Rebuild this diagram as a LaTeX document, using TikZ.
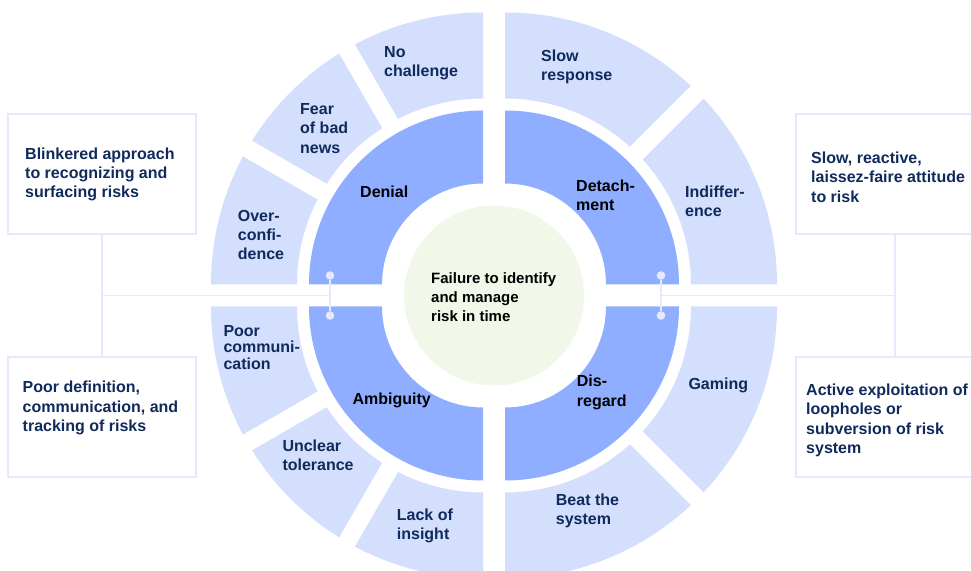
\documentclass[tikz,border=0pt]{standalone}
\usepackage{fontspec}
\setmainfont{Liberation Sans}
\usetikzlibrary{calc}
\definecolor{ringdark}{RGB}{143,174,255}
\definecolor{ringlight}{RGB}{211,223,253}
\definecolor{centergreen}{RGB}{241,247,233}
\definecolor{navy}{RGB}{16,42,92}
\definecolor{linec}{RGB}{226,234,251}
\newcommand\ringseg[6]{%
  \fill[#6] ($(#1)+(#2:#4)$) arc[start angle=#2,end angle=#3,radius=#4]
    -- ($(#1)+(#3:#5)$) arc[start angle=#3,end angle=#2,radius=#5] -- cycle;}
\tikzset{
  otext/.style={anchor=west, inner sep=0, align=left, text=navy,
    font=\bfseries\fontsize{16}{19.3}\selectfont},
  itext/.style={anchor=west, inner sep=0, align=left, text=black,
    font=\bfseries\fontsize{16}{19.3}\selectfont},
  ctext/.style={anchor=west, inner sep=0, align=left, text=black,
    font=\bfseries\fontsize{15}{19}\selectfont},
  infobox/.style={rectangle, draw=linec, line width=1.2, fill=white, inner sep=0,
    minimum height=120},
  conn/.style={draw=linec, line width=1.5},
  dot/.style={circle, fill=linec, inner sep=0, minimum size=8.6},
  gapline/.style={white, line width=18},
}
\begin{document}
\begin{tikzpicture}[x=1pt,y=1pt]
\useasboundingbox (0,0) rectangle (971,570);
\clip (0,0) rectangle (971,570);
\fill[white] (0,0) rectangle (971,570);

% quadrant centres
\coordinate (C) at (494,274.5);
\coordinate (TL) at (483,285.5);
\coordinate (TR) at (505,285.5);
\coordinate (BL) at (483,263.5);
\coordinate (BR) at (505,263.5);

% outer ring
\ringseg{TL}{90}{180}{186}{272}{ringlight}
\ringseg{TR}{0}{90}{186}{272}{ringlight}
\ringseg{BL}{180}{270}{186}{272}{ringlight}
\ringseg{BR}{270}{360}{186}{272}{ringlight}
% gaps between outer segments
\draw[gapline] ($(TL)+(120:178)$) -- ($(TL)+(120:282)$);
\draw[gapline] ($(TL)+(150:178)$) -- ($(TL)+(150:282)$);
\draw[gapline] ($(TR)+(45:178)$) -- ($(TR)+(45:282)$);
\draw[gapline] ($(BL)+(210:178)$) -- ($(BL)+(210:282)$);
\draw[gapline] ($(BL)+(240:178)$) -- ($(BL)+(240:282)$);
\draw[gapline] ($(BR)+(315:178)$) -- ($(BR)+(315:282)$);

% inner ring
\ringseg{TL}{90}{180}{101}{174}{ringdark}
\ringseg{TR}{0}{90}{101}{174}{ringdark}
\ringseg{BL}{180}{270}{101}{174}{ringdark}
\ringseg{BR}{270}{360}{101}{174}{ringdark}

% centre
\fill[centergreen] (C) circle[radius=90];

% boxes
\node[infobox, minimum width=188] (b1) at (102,396) {};
\node[infobox, minimum width=188] (b2) at (102,153) {};
\node[infobox, minimum width=198] (b3) at (895,396) {};
\node[infobox, minimum width=198] (b4) at (895,153) {};

% connectors
\node[dot] (dDenial) at (330,294.5) {};
\node[dot] (dAmb) at (330,254.5) {};
\node[dot] (dDet) at (661,294.5) {};
\node[dot] (dDis) at (661,254.5) {};
\coordinate (jl) at (102,274.5);
\coordinate (jr) at (895,274.5);
\draw[conn] (b1.south) -- (b2.north);
\draw[conn] (b3.south) -- (b4.north);
\draw[conn] (jl) -- (jl -| dDenial);
\draw[conn] (jr) -- (jr -| dDet);
\draw[conn] (dDenial) -- (dAmb);
\draw[conn] (dDet) -- (dDis);

% box texts
\node[otext] (t1) at (25,395.5) {Blinkered approach\\to recognizing and\\surfacing risks};
\node[otext] (t2) at (22.5,162) {Poor definition,\\communication, and\\tracking of risks};
\node[otext] (t3) at (811,393) {Slow, reactive,\\laissez-faire attitude\\to risk};
\node[otext] (t4) at (806,149.5) {Active exploitation of\\loopholes or\\subversion of risk\\system};

% outer segment texts
\node[otext] (sNo) at (384,507) {No\\challenge};
\node[otext] (sFear) at (300,441.7) {Fear\\of bad\\news};
\node[otext] (sOver) at (237.7,335) {Over-\\confi-\\dence};
\node[otext] (sSlow) at (541,502.8) {Slow\\response};
\node[otext] (sInd) at (685,368.8) {Indiffer-\\ence};
\node[otext, font=\bfseries\fontsize{16}{16.8}\selectfont] (sPoor) at (223.3,222.5) {Poor\\communi-\\cation};
\node[otext] (sUnc) at (282.3,115) {Unclear\\tolerance};
\node[otext] (sLack) at (396.7,44.3) {Lack of\\insight};
\node[otext] (sGam) at (688.3,185) {Gaming};
\node[otext] (sBeat) at (555.7,59.2) {Beat the\\system};

% inner texts
\node[itext] (iDen) at (360,378.3) {Denial};
\node[itext] (iDet) at (576,374.7) {Detach-\\ment};
\node[itext] (iAmb) at (352.3,169.3) {Ambiguity};
\node[itext] (iDis) at (576.7,177.5) {Dis-\\regard};

% centre text
\node[ctext] (ctr) at (431,273) {Failure to identify\\and manage\\risk in time};
\end{tikzpicture}
\end{document}
